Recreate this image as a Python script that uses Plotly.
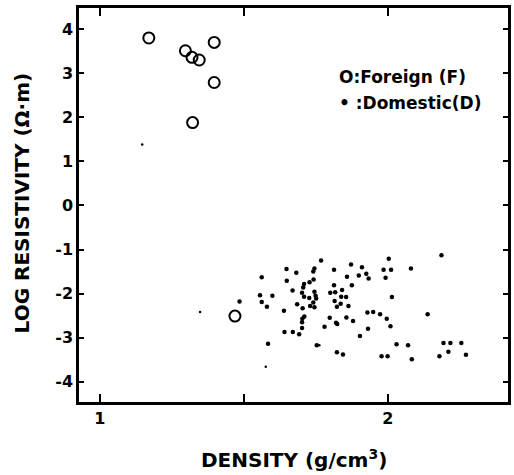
import plotly.graph_objects as go

# Foreign samples (open circles)
foreign_density = [1.170, 1.297, 1.320, 1.345, 1.397, 1.397, 1.322, 1.469]
foreign_logres = [3.80, 3.51, 3.36, 3.30, 3.70, 2.79, 1.88, -2.51]

# Domestic samples (dots)
domestic_density = [
    1.768, 1.648, 1.682, 1.745, 1.741, 1.562, 1.649, 1.728, 1.742, 1.709,
    1.706, 1.669, 1.702, 1.709, 1.745, 1.749, 1.751, 1.727, 1.556, 1.599,
    1.562, 1.485, 1.580, 1.685, 1.741, 1.730, 1.745, 1.704, 1.639, 1.710,
    1.703, 1.702, 1.702, 1.641, 1.670, 1.692, 1.780, 1.584, 1.753,
    2.003, 2.186, 1.813, 1.872, 1.910, 1.925, 1.933, 1.899, 1.858, 1.875,
    1.813, 1.841, 1.800, 1.817, 1.838, 1.855, 1.815, 1.836, 1.823, 1.863,
    1.985, 2.011, 1.992, 2.080, 2.014, 1.798, 1.856, 1.879, 1.929, 1.949,
    1.973, 1.996, 2.138, 1.820, 1.824, 2.009, 1.931, 1.903, 2.030, 2.070,
    1.823, 1.844, 1.978, 1.999, 2.083, 2.193, 2.217, 2.255, 2.210, 2.179,
    2.271,
]
domestic_logres = [
    -1.25, -1.44, -1.53, -1.43, -1.50, -1.63, -1.71, -1.74, -1.68, -1.78,
    -1.86, -1.93, -1.98, -2.07, -1.96, -2.05, -2.11, -2.10, -2.04, -2.05,
    -2.19, -2.18, -2.30, -2.24, -2.20, -2.28, -2.31, -2.33, -2.39, -2.52,
    -2.57, -2.65, -2.78, -2.87, -2.87, -2.92, -2.75, -3.14, -3.17,
    -1.21, -1.13, -1.46, -1.34, -1.40, -1.55, -1.66, -1.59, -1.62, -1.81,
    -1.81, -1.92, -1.98, -1.97, -2.07, -2.08, -2.17, -2.23, -2.30, -2.28,
    -1.46, -1.46, -1.64, -1.43, -2.08, -2.55, -2.54, -2.62, -2.43, -2.42,
    -2.47, -2.57, -2.47, -2.66, -2.69, -2.74, -2.80, -2.96, -3.15, -3.17,
    -3.33, -3.38, -3.42, -3.42, -3.49, -3.12, -3.12, -3.12, -3.32, -3.42,
    -3.39,
]

# Faint specks (small dots)
speck_density = [1.147, 1.348, 1.576, 1.762]
speck_logres = [1.38, -2.42, -3.66, -3.17]

x_tickvals = [1, 2]
x_ticktext = ["1", "2"]
x_minor_tickvals = [1.5]
y_tickvals = [4, 3, 2, 1, 0, -1, -2, -3, -4]
y_ticktext = ["4", "3", "2", "1", "0", "-1", "-2", "-3", "-4"]

FONT = "DejaVu Sans, Arial, sans-serif"

fig = go.Figure()
fig.add_trace(go.Scatter(
    x=domestic_density, y=domestic_logres, mode="markers",
    marker=dict(symbol="circle", size=4.5, color="black"),
    name="Domestic (D)", showlegend=False,
))
fig.add_trace(go.Scatter(
    x=speck_density, y=speck_logres, mode="markers",
    marker=dict(symbol="circle", size=2.5, color="black"),
    showlegend=False,
))
fig.add_trace(go.Scatter(
    x=foreign_density, y=foreign_logres, mode="markers",
    marker=dict(symbol="circle-open", size=11, color="black",
                line=dict(width=2, color="black")),
    name="Foreign (F)", showlegend=False,
))

axis_common = dict(
    showline=True, linecolor="black", linewidth=2.5, mirror="ticks",
    ticks="inside", tickcolor="black", tickwidth=2, showgrid=False,
    zeroline=False,
    tickfont=dict(family=FONT, size=16, color="black", weight="bold"),
)

fig.update_layout(
    width=514, height=475,
    margin=dict(l=79, r=3, t=8, b=73),
    paper_bgcolor="white", plot_bgcolor="white",
    xaxis=dict(range=[0.9276, 2.417], tickvals=x_tickvals, ticktext=x_ticktext,
               ticklen=8,
               minor=dict(tickvals=x_minor_tickvals, ticks="inside", ticklen=8,
                          tickwidth=2, tickcolor="black", showgrid=False),
               **axis_common),
    yaxis=dict(range=[-4.46, 4.48], tickvals=y_tickvals, ticktext=y_ticktext,
               ticklen=5, ticklabelstandoff=0, **axis_common),
    annotations=[
        dict(text="DENSITY (g/cm<sup>3</sup>)", xref="paper", yref="paper",
             x=0.5, y=-0.145, xanchor="center", yanchor="middle",
             showarrow=False,
             font=dict(family=FONT, size=20, color="black", weight="bold")),
        dict(text="LOG RESISTIVITY (Ω·m)", xref="paper", yref="paper",
             x=-0.132, y=0.505, xanchor="center", yanchor="middle",
             textangle=-90, showarrow=False,
             font=dict(family=FONT, size=20, color="black", weight="bold")),
        dict(text="O:Foreign (F)", xref="paper", yref="paper",
             x=0.602, y=0.825, xanchor="left", yanchor="middle",
             showarrow=False,
             font=dict(family=FONT, size=17, color="black", weight="bold")),
        dict(text="• :Domestic(D)", xref="paper", yref="paper",
             x=0.602, y=0.759, xanchor="left", yanchor="middle",
             showarrow=False,
             font=dict(family=FONT, size=17, color="black", weight="bold")),
    ],
)

fig.write_html(
    "out.html",
    config={"displayModeBar": False},
    post_script="document.body.style.margin='0';document.body.style.overflow='hidden';",
)
